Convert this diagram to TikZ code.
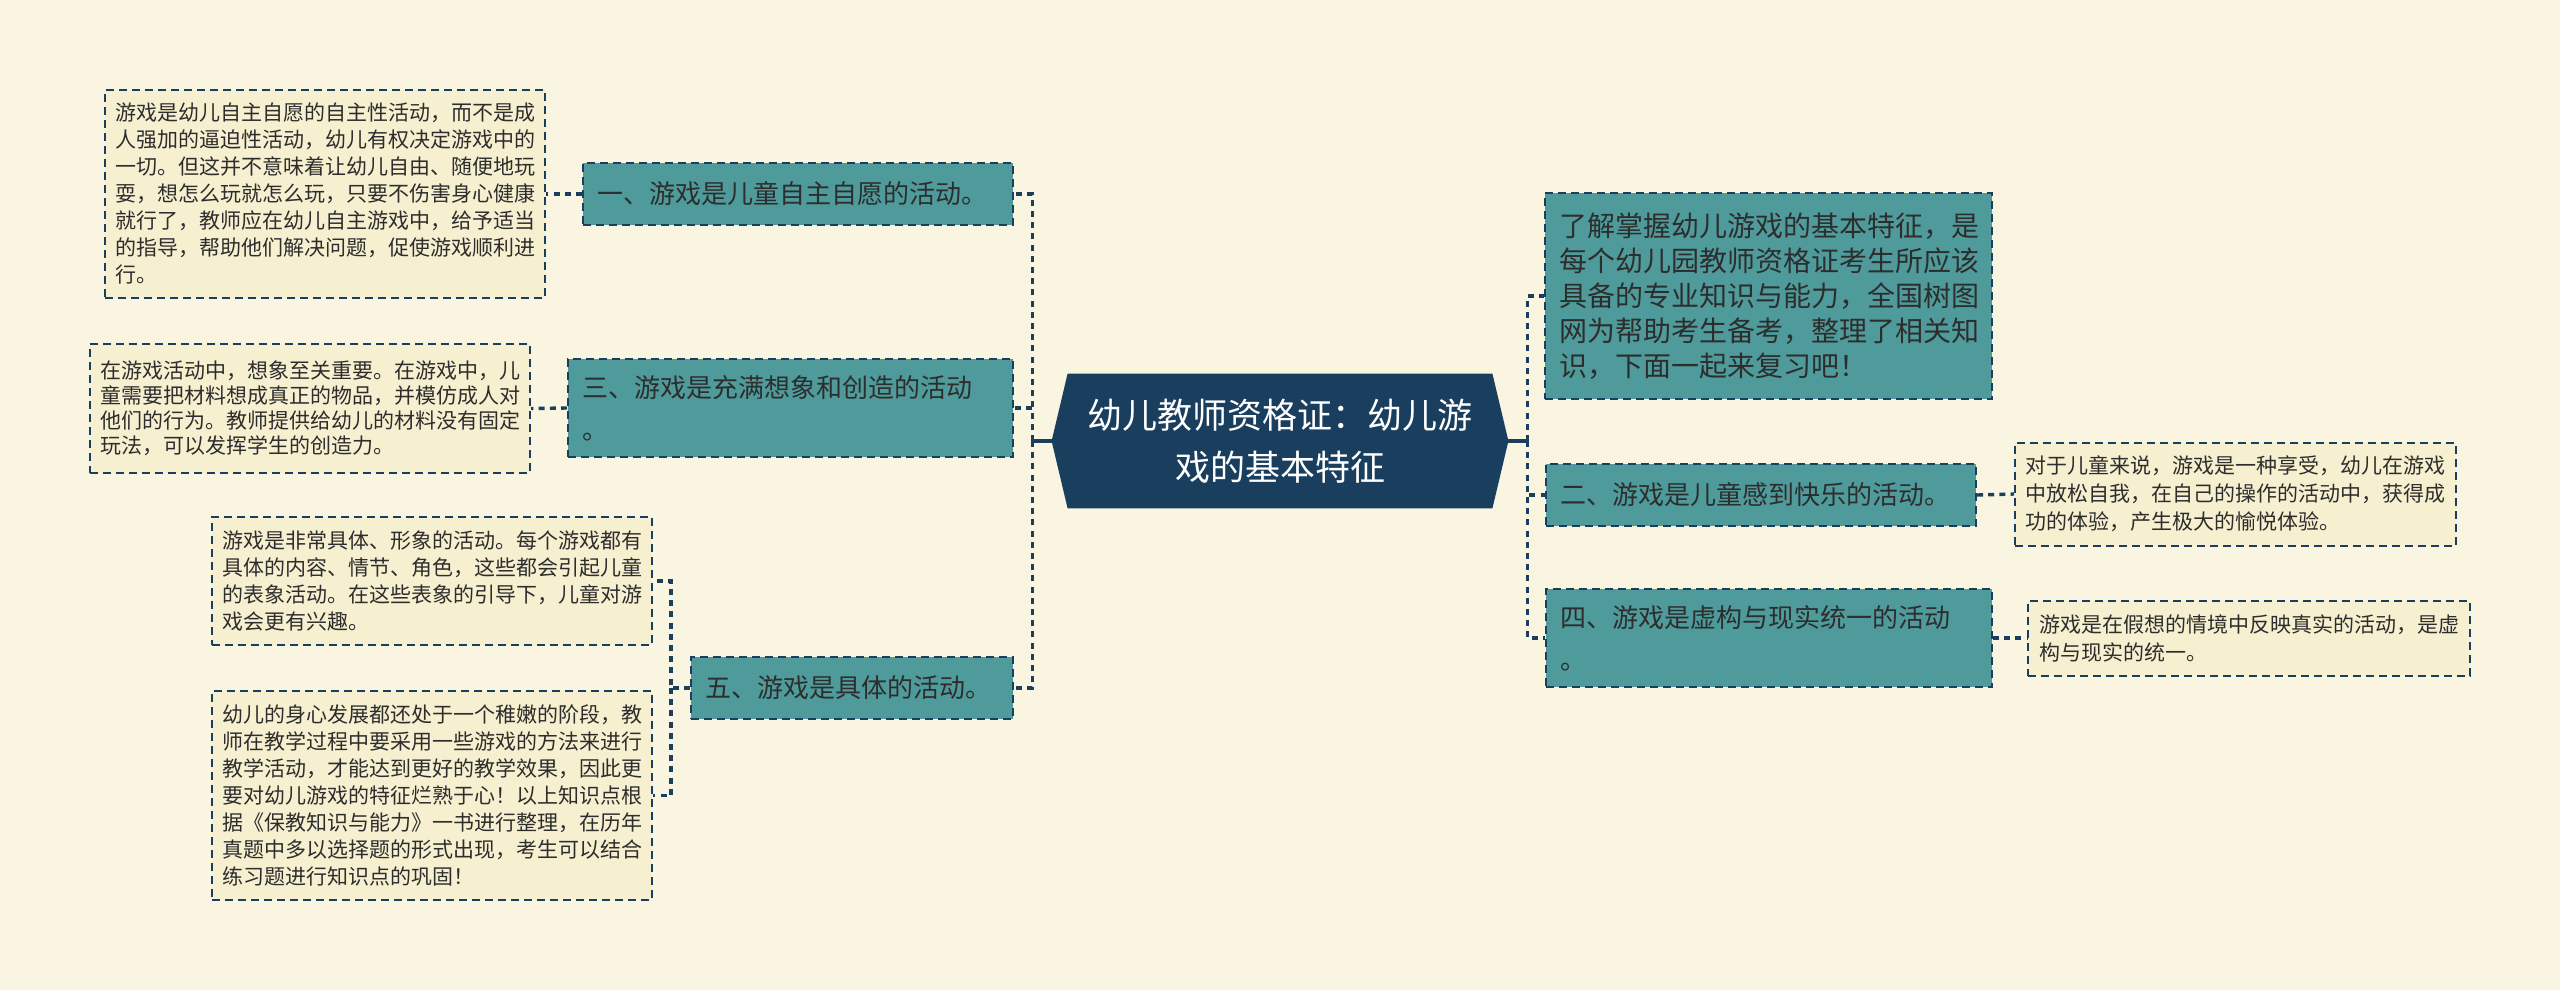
\documentclass[tikz,border=0pt]{standalone}
\usepackage{fontspec}
\setmainfont{Noto Sans CJK SC}
\usetikzlibrary{backgrounds}
\definecolor{bgc}{RGB}{250,245,224}
\definecolor{leafc}{RGB}{247,240,208}
\definecolor{tealc}{RGB}{79,155,155}
\definecolor{navy}{RGB}{26,63,94}
\definecolor{txt}{RGB}{45,45,45}
\tikzset{
  dashline/.style={draw=navy, line width=1.7pt, dash pattern=on 3pt off 2.6pt},
  boxbase/.style={draw=navy, line width=1pt, dash pattern=on 4pt off 2.5pt, align=left, text=txt, inner sep=0pt},
  leaf/.style={boxbase, fill=leafc, font=\fontsize{10.5pt}{13.5pt}\selectfont},
  branch/.style={boxbase, fill=tealc, font=\fontsize{13pt}{21pt}\selectfont},
  conn/.style={dashline},
}
\begin{document}
\begin{tikzpicture}[x=0.5pt,y=-0.5pt]
\begin{scope}[on background layer]
\fill[bgc] (0,0) rectangle (2560,990);
\end{scope}
\useasboundingbox (0,0) rectangle (2560,990);

% center
\node (c) [minimum width=228pt, minimum height=67pt, inner sep=0pt, align=center, text=white,
  font=\fontsize{17.5pt}{26pt}\selectfont] at (1280,441) {幼儿教师资格证：幼儿游\\戏的基本特征};

% left branches
\node (b1) [branch, minimum width=215pt, text width=201pt, minimum height=31pt] at (798,194) {一、游戏是儿童自主自愿的活动。};
\node (b3) [branch, minimum width=222.5pt, text width=208.5pt, minimum height=49pt] at (790.5,408) {三、游戏是充满想象和创造的活动\\。};
\node (b5) [branch, minimum width=161pt, text width=147pt, minimum height=31pt] at (852,688) {五、游戏是具体的活动。};

% left leaves
\node (l1) [leaf, minimum width=220pt, minimum height=104pt] at (325,194) {游戏是幼儿自主自愿的自主性活动，而不是成\\人强加的逼迫性活动，幼儿有权决定游戏中的\\一切。但这并不意味着让幼儿自由、随便地玩\\耍，想怎么玩就怎么玩，只要不伤害身心健康\\就行了，教师应在幼儿自主游戏中，给予适当\\的指导，帮助他们解决问题，促使游戏顺利进\\行。};
\node (l3) [leaf, minimum width=220pt, minimum height=64.5pt, font=\fontsize{10.5pt}{12.5pt}\selectfont] at (310,408.5) {在游戏活动中，想象至关重要。在游戏中，儿\\童需要把材料想成真正的物品，并模仿成人对\\他们的行为。教师提供给幼儿的材料没有固定\\玩法，可以发挥学生的创造力。};
\node (l5a) [leaf, minimum width=220pt, minimum height=64pt] at (432,581) {游戏是非常具体、形象的活动。每个游戏都有\\具体的内容、情节、角色，这些都会引起儿童\\的表象活动。在这些表象的引导下，儿童对游\\戏会更有兴趣。};
\node (l5b) [leaf, minimum width=220pt, minimum height=104.5pt] at (432,795.5) {幼儿的身心发展都还处于一个稚嫩的阶段，教\\师在教学过程中要采用一些游戏的方法来进行\\教学活动，才能达到更好的教学效果，因此更\\要对幼儿游戏的特征烂熟于心！以上知识点根\\据《保教知识与能力》一书进行整理，在历年\\真题中多以选择题的形式出现，考生可以结合\\练习题进行知识点的巩固！};

% right branches
\node (r1) [branch, minimum width=223.5pt, text width=209.5pt, minimum height=103pt, font=\fontsize{14pt}{17.5pt}\selectfont] at (1768.5,296) {了解掌握幼儿游戏的基本特征，是\\每个幼儿园教师资格证考生所应该\\具备的专业知识与能力，全国树图\\网为帮助考生备考，整理了相关知\\识，下面一起来复习吧！};
\node (b2) [branch, minimum width=215pt, text width=201pt, minimum height=31pt] at (1761,495) {二、游戏是儿童感到快乐的活动。};
\node (b4) [branch, minimum width=223pt, text width=209pt, minimum height=49pt] at (1769,638) {四、游戏是虚构与现实统一的活动\\。};

% right leaves
\node (l2) [leaf, minimum width=220.5pt, minimum height=51.5pt, font=\fontsize{10.5pt}{14pt}\selectfont] at (2235.5,494) {对于儿童来说，游戏是一种享受，幼儿在游戏\\中放松自我，在自己的操作的活动中，获得成\\功的体验，产生极大的愉悦体验。};
\node (l4) [leaf, minimum width=221pt, minimum height=37.5pt, font=\fontsize{10.5pt}{14pt}\selectfont] at (2249,638) {游戏是在假想的情境中反映真实的活动，是虚\\构与现实的统一。};

% center hexagon
\begin{scope}[on background layer]
\fill[navy] ([xshift=8pt]c.north west) -- ([xshift=-8pt]c.north east) -- (c.east)
  -- ([xshift=-8pt]c.south east) -- ([xshift=8pt]c.south west) -- (c.west) -- cycle;
\end{scope}

% trunks
\draw[navy, line width=1.7pt] (c.west) -- ++(-19,0) coordinate (tl);
\draw[navy, line width=1.7pt] (c.east) -- ++(19,0) coordinate (tr);
\draw[conn] (tl) |- (b1.east);
\draw[conn] (tl) |- (b3.east);
\draw[conn] (tl) |- (b5.east);
\draw[conn] (tr) |- (r1.west);
\draw[conn] (tr) |- (b2.west);
\draw[conn] (tr) |- (b4.west);

% leaf connectors
\draw[conn] (b1.west) -- (l1.east);
\draw[conn] (b3.west) -- (l3.east);
\draw[conn] (b5.west) -- ++(-19,0) coordinate (t5) |- (l5a.east);
\draw[conn] (t5) |- (l5b.east);
\draw[conn] (b2.east) -- (l2.west);
\draw[conn] (b4.east) -- (l4.west);
\end{tikzpicture}
\end{document}
